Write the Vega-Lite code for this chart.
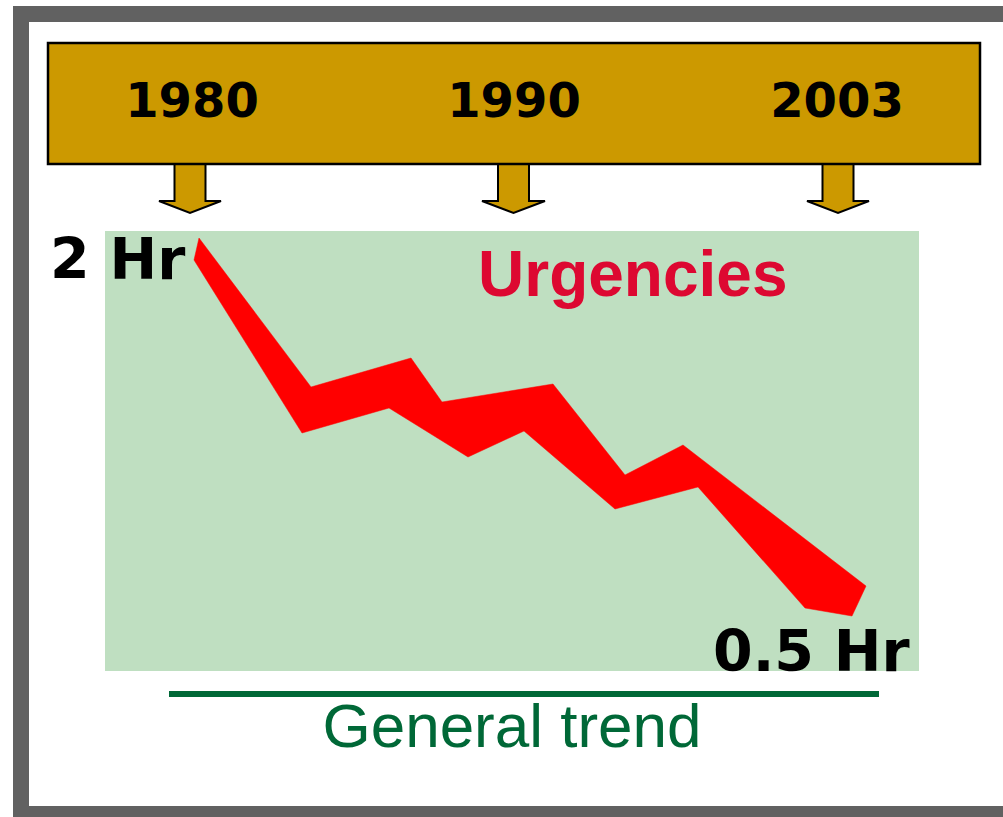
{
  "$schema": "https://vega.github.io/schema/vega-lite/v6.json",
  "width": 1003,
  "height": 817,
  "autosize": {"type": "fit", "contains": "padding"},
  "padding": 0,
  "background": "#ffffff",
  "config": {"view": {"stroke": null}},
  "datasets": {
    "frame": [
      {"part": "outer", "x": 13, "x2": 1003, "y": 6, "y2": 817},
      {"part": "inner", "x": 29, "x2": 1003, "y": 22, "y2": 806}
    ],
    "timeline": [{"x": 48, "x2": 980, "y": 43, "y2": 164}],
    "panel": [{"x": 105, "x2": 919, "y": 231, "y2": 671}],
    "arrows": [
      {"year": "1980", "i": 0, "x": 174.5, "y": 164},
      {"year": "1980", "i": 1, "x": 205.5, "y": 164},
      {"year": "1980", "i": 2, "x": 205.5, "y": 201},
      {"year": "1980", "i": 3, "x": 221, "y": 201},
      {"year": "1980", "i": 4, "x": 190, "y": 213},
      {"year": "1980", "i": 5, "x": 159, "y": 201},
      {"year": "1980", "i": 6, "x": 174.5, "y": 201},
      {"year": "1980", "i": 7, "x": 174.5, "y": 164},
      {"year": "1990", "i": 0, "x": 498, "y": 164},
      {"year": "1990", "i": 1, "x": 529, "y": 164},
      {"year": "1990", "i": 2, "x": 529, "y": 201},
      {"year": "1990", "i": 3, "x": 545, "y": 201},
      {"year": "1990", "i": 4, "x": 513.5, "y": 213},
      {"year": "1990", "i": 5, "x": 482, "y": 201},
      {"year": "1990", "i": 6, "x": 498, "y": 201},
      {"year": "1990", "i": 7, "x": 498, "y": 164},
      {"year": "2003", "i": 0, "x": 822.5, "y": 164},
      {"year": "2003", "i": 1, "x": 853.5, "y": 164},
      {"year": "2003", "i": 2, "x": 853.5, "y": 201},
      {"year": "2003", "i": 3, "x": 869, "y": 201},
      {"year": "2003", "i": 4, "x": 838, "y": 213},
      {"year": "2003", "i": 5, "x": 807, "y": 201},
      {"year": "2003", "i": 6, "x": 822.5, "y": 201},
      {"year": "2003", "i": 7, "x": 822.5, "y": 164}
    ],
    "band": [
      {"i": 0, "x": 199, "y": 238},
      {"i": 1, "x": 311, "y": 387},
      {"i": 2, "x": 411, "y": 358},
      {"i": 3, "x": 442, "y": 402},
      {"i": 4, "x": 553, "y": 384},
      {"i": 5, "x": 625, "y": 475},
      {"i": 6, "x": 683, "y": 445},
      {"i": 7, "x": 866, "y": 586},
      {"i": 8, "x": 852, "y": 616},
      {"i": 9, "x": 805, "y": 608},
      {"i": 10, "x": 698, "y": 487},
      {"i": 11, "x": 615, "y": 509},
      {"i": 12, "x": 524, "y": 431},
      {"i": 13, "x": 468, "y": 457},
      {"i": 14, "x": 389, "y": 408},
      {"i": 15, "x": 302, "y": 433},
      {"i": 16, "x": 194, "y": 260},
      {"i": 17, "x": 199, "y": 238}
    ],
    "years": [
      {"label": "1980", "x": 192, "y": 117},
      {"label": "1990", "x": 514, "y": 117},
      {"label": "2003", "x": 837, "y": 117}
    ],
    "hours": [
      {"label": "2 Hr", "x": 50, "y": 279},
      {"label": "0.5 Hr", "x": 713, "y": 671}
    ],
    "title": [{"label": "Urgencies", "x": 478, "y": 296}],
    "trend": [{"label": "General trend", "x": 169, "x2": 879, "y": 694, "tx": 512, "ty": 747}]
  },
  "layer": [
    {
      "data": {"name": "frame"},
      "mark": {"type": "rect"},
      "encoding": {
        "x": {"field": "x", "type": "quantitative", "scale": {"domain": [0, 1003], "nice": false, "zero": false}, "axis": null},
        "x2": {"field": "x2"},
        "y": {"field": "y", "type": "quantitative", "scale": {"domain": [0, 817], "nice": false, "zero": false, "reverse": true}, "axis": null},
        "y2": {"field": "y2"},
        "color": {"field": "part", "type": "nominal", "scale": {"domain": ["outer", "inner"], "range": ["#616161", "#ffffff"]}, "legend": null},
        "order": {"field": "part", "sort": "descending"}
      }
    },
    {
      "data": {"name": "arrows"},
      "mark": {"type": "line", "fill": "#CC9900", "stroke": "#000000", "strokeWidth": 2, "strokeJoin": "miter"},
      "encoding": {
        "x": {"field": "x", "type": "quantitative", "scale": {"domain": [0, 1003], "nice": false, "zero": false}, "axis": null},
        "y": {"field": "y", "type": "quantitative", "scale": {"domain": [0, 817], "nice": false, "zero": false, "reverse": true}, "axis": null},
        "detail": {"field": "year", "type": "nominal"},
        "order": {"field": "i", "type": "quantitative"}
      }
    },
    {
      "data": {"name": "timeline"},
      "mark": {"type": "rect", "fill": "#CC9900", "stroke": "#000000", "strokeWidth": 2.5},
      "encoding": {
        "x": {"field": "x", "type": "quantitative", "scale": {"domain": [0, 1003], "nice": false, "zero": false}, "axis": null},
        "x2": {"field": "x2"},
        "y": {"field": "y", "type": "quantitative", "scale": {"domain": [0, 817], "nice": false, "zero": false, "reverse": true}, "axis": null},
        "y2": {"field": "y2"}
      }
    },
    {
      "data": {"name": "panel"},
      "mark": {"type": "rect", "fill": "#BFDFC1"},
      "encoding": {
        "x": {"field": "x", "type": "quantitative", "scale": {"domain": [0, 1003], "nice": false, "zero": false}, "axis": null},
        "x2": {"field": "x2"},
        "y": {"field": "y", "type": "quantitative", "scale": {"domain": [0, 817], "nice": false, "zero": false, "reverse": true}, "axis": null},
        "y2": {"field": "y2"}
      }
    },
    {
      "data": {"name": "band"},
      "mark": {"type": "line", "fill": "#FF0000", "stroke": "#FF0000", "strokeWidth": 0.5},
      "encoding": {
        "x": {"field": "x", "type": "quantitative", "scale": {"domain": [0, 1003], "nice": false, "zero": false}, "axis": null},
        "y": {"field": "y", "type": "quantitative", "scale": {"domain": [0, 817], "nice": false, "zero": false, "reverse": true}, "axis": null},
        "order": {"field": "i", "type": "quantitative"}
      }
    },
    {
      "data": {"name": "years"},
      "mark": {"type": "text", "font": "DejaVu Sans", "fontWeight": "bold", "fontSize": 48, "align": "center", "baseline": "alphabetic", "color": "#000000"},
      "encoding": {
        "x": {"field": "x", "type": "quantitative", "scale": {"domain": [0, 1003], "nice": false, "zero": false}, "axis": null},
        "y": {"field": "y", "type": "quantitative", "scale": {"domain": [0, 817], "nice": false, "zero": false, "reverse": true}, "axis": null},
        "text": {"field": "label"}
      }
    },
    {
      "data": {"name": "hours"},
      "mark": {"type": "text", "font": "DejaVu Sans", "fontWeight": "bold", "fontSize": 57, "align": "left", "baseline": "alphabetic", "color": "#000000"},
      "encoding": {
        "x": {"field": "x", "type": "quantitative", "scale": {"domain": [0, 1003], "nice": false, "zero": false}, "axis": null},
        "y": {"field": "y", "type": "quantitative", "scale": {"domain": [0, 817], "nice": false, "zero": false, "reverse": true}, "axis": null},
        "text": {"field": "label"}
      }
    },
    {
      "data": {"name": "title"},
      "mark": {"type": "text", "font": "Liberation Sans", "fontWeight": "bold", "fontSize": 64, "align": "left", "baseline": "alphabetic", "color": "#DD0831"},
      "encoding": {
        "x": {"field": "x", "type": "quantitative", "scale": {"domain": [0, 1003], "nice": false, "zero": false}, "axis": null},
        "y": {"field": "y", "type": "quantitative", "scale": {"domain": [0, 817], "nice": false, "zero": false, "reverse": true}, "axis": null},
        "text": {"field": "label"}
      }
    },
    {
      "data": {"name": "trend"},
      "mark": {"type": "rule", "color": "#006837", "strokeWidth": 6},
      "encoding": {
        "x": {"field": "x", "type": "quantitative", "scale": {"domain": [0, 1003], "nice": false, "zero": false}, "axis": null},
        "x2": {"field": "x2"},
        "y": {"field": "y", "type": "quantitative", "scale": {"domain": [0, 817], "nice": false, "zero": false, "reverse": true}, "axis": null}
      }
    },
    {
      "data": {"name": "trend"},
      "mark": {"type": "text", "font": "Liberation Sans", "fontSize": 62, "align": "center", "baseline": "alphabetic", "color": "#006837"},
      "encoding": {
        "x": {"field": "tx", "type": "quantitative", "scale": {"domain": [0, 1003], "nice": false, "zero": false}, "axis": null},
        "y": {"field": "ty", "type": "quantitative", "scale": {"domain": [0, 817], "nice": false, "zero": false, "reverse": true}, "axis": null},
        "text": {"field": "label"}
      }
    }
  ]
}
